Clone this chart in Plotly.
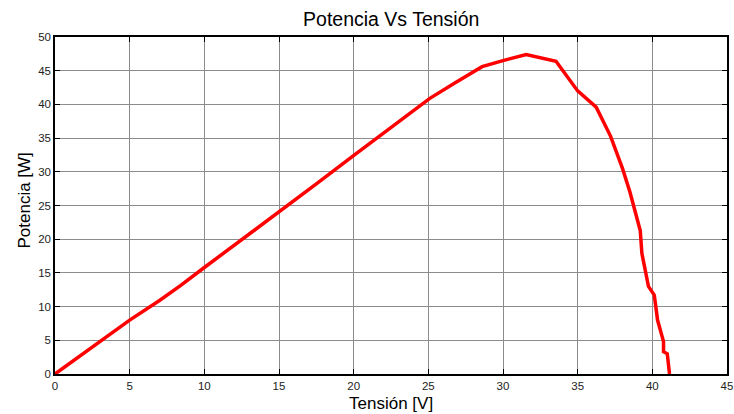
import plotly.graph_objects as go

tension = [0, 1.5, 3.0, 3.7, 5.0, 7.0, 8.4, 10.0, 11.7, 13.4, 15.3, 17.5, 20.1, 22.5, 25.1,
           26.8, 28.6, 30.0, 31.55, 33.55, 35.0, 36.24, 37.2, 38.0, 38.5, 39.19, 39.3, 39.74, 40.13, 40.35,
           40.75, 40.75, 41.0, 41.15]
potencia = [0, 2.4, 4.9, 6.0, 8.0, 10.9, 13.1, 15.8, 18.6, 21.4, 24.6, 28.2, 32.6, 36.6, 40.9,
            43.2, 45.6, 46.5, 47.4, 46.4, 42.0, 39.6, 35.3, 30.5, 27.0, 21.3, 17.9, 13.0, 11.7, 8.0,
            4.8, 3.3, 3.0, 0]

x_ticks = [0, 5, 10, 15, 20, 25, 30, 35, 40, 45]
y_ticks = [0, 5, 10, 15, 20, 25, 30, 35, 40, 45, 50]

FONT = "Liberation Sans, Arial"

fig = go.Figure()
fig.add_trace(go.Scatter(x=tension, y=potencia, mode="lines",
                         line=dict(color="#ff0000", width=3.5), showlegend=False))

axis_common = dict(showline=True, linecolor="black", linewidth=1.5, mirror="ticks",
                   ticks="inside", ticklen=5, tickcolor="black", tickwidth=1,
                   showgrid=True, gridcolor="#8c8c8c", gridwidth=1, zeroline=False,
                   automargin=False,
                   tickfont=dict(family=FONT, size=11.5, color="#222"))

fig.update_xaxes(range=[0, 45], tickvals=x_ticks, **axis_common)
fig.update_yaxes(range=[0, 50], tickvals=y_ticks, **axis_common)

fig.update_layout(
    width=734, height=414,
    margin=dict(l=55, r=7, t=37, b=40, autoexpand=False),
    paper_bgcolor="white", plot_bgcolor="white",
    title=dict(text="Potencia Vs Tensión", x=0.533, xanchor="center", y=0.953, yanchor="middle",
               font=dict(family=FONT, size=19.5, color="black")),
    annotations=[
        dict(text="Tensión [V]", xref="paper", yref="paper", x=0.5, y=-0.087,
             xanchor="center", yanchor="middle", showarrow=False,
             font=dict(family=FONT, size=17, color="black")),
        dict(text="Potencia [W]", xref="paper", yref="paper", x=-0.046, y=0.515,
             xanchor="center", yanchor="middle", showarrow=False, textangle=-90,
             font=dict(family=FONT, size=17, color="black")),
    ],
)

fig.write_html("out.html", config={"displayModeBar": False},
               post_script="document.body.style.margin='0';document.body.style.overflow='hidden';")
